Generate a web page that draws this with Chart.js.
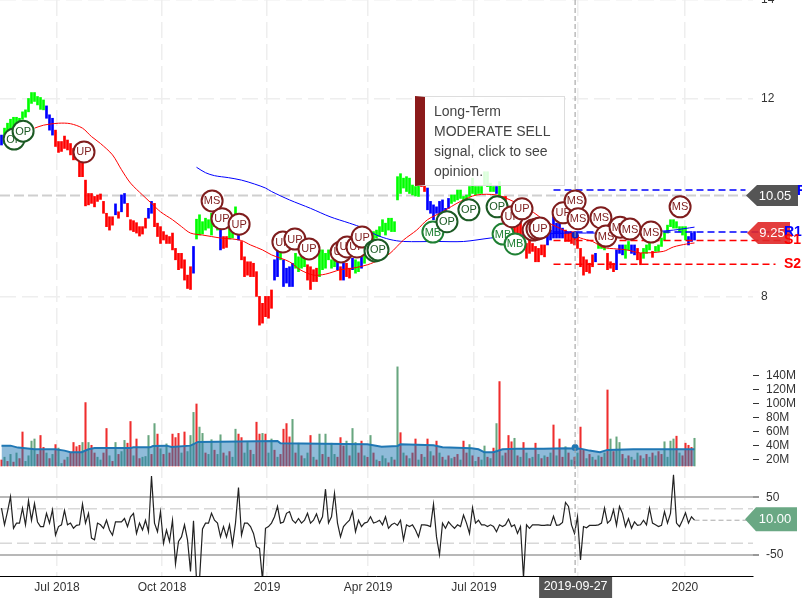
<!DOCTYPE html>
<html>
<head>
<meta charset="utf-8">
<title>Stock chart</title>
<script src="https://cdn.jsdelivr.net/npm/chart.js@4/dist/chart.umd.min.js"></script>
<style>
  html, body { margin: 0; padding: 0; background: #fff; }
  #wrap { position: relative; width: 802px; height: 600px; overflow: hidden; }
  canvas { display: block; }
  #opinion { position: absolute; left: 415px; top: 96px; width: 150px; height: 90px; box-sizing: border-box;
    background: rgba(255,255,255,0.86); border: 1px solid #ddd; border-left: 10px solid #8b1a1a;
    padding: 4px 0 0 9px; font: 14px/20px "Liberation Sans", Arial, sans-serif; color: #444; }
</style>
</head>
<body>
<div id="wrap">
  <canvas id="stock" width="802" height="600"></canvas>
  <div id="opinion">Long-Term<br>MODERATE SELL<br>signal, click to see<br>opinion.</div>
</div>
<script>
// bars are sampled sessions, x axis is the sample number
const tickSessions = [18.5, 53.5, 88.5, 122.2, 157.5, 192.2, 227.8];
const tickLabels = ['Jul 2018', 'Oct 2018', '2019', 'Apr 2019', 'Jul 2019', 'Oct 2019', '2020'];
const priceTicks = [14, 12, 8];
const volumeTicks = [20, 40, 60, 80, 100, 120, 140];
const cciTicks = [50, -50];

const priceHigh = [
  11.27,11.41,11.51,11.59,11.63,11.63,11.61,11.74,11.78,12.01,
  12.13,12.13,12.05,12.03,11.98,11.86,11.68,11.61,11.37,11.14,
  11.14,11.25,11.17,11.10,11.00,11.00,10.73,10.70,10.36,10.09,
  10.09,10.03,10.06,10.08,9.93,9.69,9.62,9.62,9.88,9.72,
  10.06,10.09,9.89,9.56,9.54,9.50,9.42,9.42,9.59,9.79,
  9.93,9.89,9.49,9.42,9.32,9.25,9.22,9.29,8.98,8.88,
  8.88,8.75,8.44,8.61,9.02,9.57,9.66,9.52,9.59,9.56,
  9.69,9.69,9.62,9.35,9.22,9.22,9.42,9.35,9.82,9.42,
  9.12,8.81,8.71,8.71,8.68,8.51,8.01,7.87,8.01,8.01,
  8.14,8.75,8.95,8.92,8.75,8.58,8.61,8.68,8.88,8.81,
  8.85,8.81,8.65,8.61,8.55,8.58,8.95,8.95,8.88,8.95,
  8.75,8.81,8.75,8.61,8.68,8.68,8.58,8.78,8.75,8.71,
  8.81,8.98,9.08,9.25,9.32,9.35,9.42,9.56,9.49,9.59,
  9.59,9.52,10.43,10.49,10.40,10.43,10.40,10.26,10.23,10.30,
  10.43,10.26,10.20,9.93,9.86,9.82,9.93,9.96,9.79,9.99,
  10.06,10.06,10.16,10.16,10.03,10.06,10.23,10.40,10.23,10.23,
  10.23,10.53,10.53,10.30,10.23,10.23,10.33,10.03,10.03,9.79,
  9.69,9.62,9.56,9.49,9.29,9.08,9.15,9.08,9.02,8.98,
  9.05,9.05,9.29,9.35,9.62,9.49,9.52,9.39,9.35,9.29,
  9.32,9.32,9.25,8.98,8.81,8.75,8.68,8.85,8.88,9.12,
  9.08,9.05,8.88,8.71,8.68,8.95,9.05,9.05,9.05,9.12,
  9.05,9.05,8.98,8.88,8.98,9.05,9.08,8.92,9.02,9.05,
  9.19,9.32,9.45,9.56,9.56,9.52,9.42,9.42,9.42,9.22,
  9.29,9.32
];
const priceLow = [
  11.07,11.10,11.21,11.27,11.37,11.47,11.51,11.59,11.63,11.74,
  11.91,11.95,11.88,11.79,11.78,11.61,11.37,11.27,11.04,10.92,
  10.94,11.00,10.97,10.87,10.77,10.77,10.43,10.43,9.84,9.86,
  9.89,9.82,9.93,9.97,9.69,9.42,9.35,9.45,9.66,9.59,
  9.72,9.89,9.62,9.35,9.32,9.29,9.23,9.27,9.39,9.59,
  9.69,9.42,9.22,9.08,9.15,9.08,9.08,8.95,8.75,8.55,
  8.58,8.34,8.17,8.15,8.48,9.17,9.25,9.27,9.35,9.39,
  9.25,9.42,9.35,8.95,8.98,9.00,9.17,9.19,9.49,9.15,
  8.75,8.41,8.44,8.41,8.41,8.01,7.43,7.47,7.60,7.57,
  7.77,8.34,8.41,8.75,8.21,8.28,8.21,8.21,8.58,8.51,
  8.58,8.61,8.34,8.15,8.31,8.31,8.41,8.55,8.58,8.75,
  8.58,8.61,8.55,8.34,8.34,8.41,8.38,8.55,8.48,8.51,
  8.58,8.68,8.81,9.02,9.08,9.19,9.22,9.32,9.25,9.35,
  9.32,9.32,9.96,10.09,10.20,10.13,10.09,10.06,10.04,10.03,
  10.23,10.13,9.76,9.69,9.56,9.69,9.56,9.72,9.66,9.79,
  9.89,9.93,9.96,9.99,9.86,9.96,10.03,10.09,10.06,10.09,
  10.09,10.26,10.23,10.13,10.13,10.09,10.03,9.69,9.62,9.49,
  9.42,9.29,9.22,9.15,8.95,8.78,8.88,8.92,8.71,8.71,
  8.85,8.81,9.05,9.15,9.19,9.19,9.19,9.19,9.12,9.12,
  9.08,9.05,8.98,8.61,8.44,8.51,8.48,8.61,8.71,8.98,
  8.98,8.95,8.55,8.58,8.51,8.55,8.88,8.85,8.78,8.95,
  8.88,8.85,8.75,8.65,8.78,8.88,8.95,8.80,8.92,8.92,
  9.02,9.15,9.29,9.42,9.39,9.39,9.32,9.25,9.15,9.05,
  9.12,9.15
];
// g = bullish, b = neutral, r = bearish
const priceSignal = [
  'bggggggggg','gggggbbbrr','rrrrrrrrrr','rrrrrrrrbr','bbrrrrrrrb',
  'brrrrrrrrr','rrrrbggggg','gggbrrgggb','rrrrrrrrrr','rbbgbbbbgg',
  'ggrrrrgggg','ggbrbrrbgg','bggggggggg','gggggggggg','rrbbbbbbbb',
  'gggggggggg','gggggbgrrr','rrrrrrrrrr','rrbbbbbbrr','rrrrrrrrbg',
  'ggrrrbbbgg','bbrrgggrgg','gggggggggb','bb'
].join('').split('');

const redMaSessions = [11,14,19,23,27,30,33,37,40,43,47,50,53,57,60,63,67,70,73,77,80,83,87,90,96,99.5,104,108,113,117,122,126,129.5,134,138.4,142,147,153,158.4,165,169.5,176,181.7,186,193,197,200.6,205,208.4,213,220.6,224,228.4,231];
const redMaValues = [11.41,11.47,11.51,11.50,11.41,11.24,11.10,10.87,10.57,10.30,10.06,9.89,9.72,9.56,9.42,9.29,9.25,9.22,9.19,9.17,9.14,9.05,8.95,8.85,8.71,8.55,8.44,8.46,8.55,8.58,8.65,8.75,8.88,9.15,9.35,9.56,9.72,9.93,10.06,10.06,9.96,9.76,9.52,9.39,9.19,9.12,9.00,8.97,8.95,8.89,8.92,9.01,9.07,9.09];
const blueMaSessions = [65,68,71,75.6,80,84.4,88,90,96,103,109.5,116,120.6,125,129.5,134,145,154,163,170,180,190,200,215,224,231];
const blueMaValues = [10.62,10.51,10.45,10.41,10.36,10.28,10.20,10.13,9.96,9.79,9.62,9.49,9.39,9.25,9.16,9.12,9.12,9.12,9.19,9.23,9.27,9.29,9.29,9.31,9.35,9.41];

const lastClose = 10.05;
const lastPrice = 9.25;
const lastCci = 10;
const levelNames = ['R2', 'R1', 'S1', 'S2'];
const levelValues = [10.16, 9.31, 9.14, 8.66];
const levelEnds = [248, 262, 260, 258];
const levelStart = 184;

const markerSessions = [4.2,7.2,27.5,70.2,73.5,79.2,93.8,97.8,102.5,113.2,115.2,118.5,120.2,124.5,125.5,143.8,148.5,155.8,165.2,167.2,171.2,170.2,173.5,177.2,178.5,179.5,187.2,191.2,192.2,199.8,201.5,206.2,209.5,216.5,226.2];
const markerPrices = [11.19,11.35,10.93,9.94,9.58,9.47,9.11,9.17,8.97,8.91,9.01,9.01,9.21,8.93,8.95,9.31,9.52,9.76,9.82,9.27,9.07,9.62,9.78,9.35,9.37,9.39,9.70,9.94,9.58,9.60,9.23,9.41,9.37,9.31,9.82];
const markerNames = ['OP','OP','UP','MS','UP','UP','UP','UP','UP','UP','UP','UP','UP','OP','OP','MB','OP','OP','OP','MB','MB','UP','UP','UP','UP','UP','UP','MS','MS','MS','MS','MS','MS','MS','MS'];

// volume in millions
const volumes = [
  20,24,18,28,17,30,22,60,18,26, 47,50,28,55,38,30,22,28,42,37,
  15,20,24,30,45,39,41,45,102,45, 41,30,24,20,30,65,26,18,45,28,
  32,48,44,75,26,50,22,24,25,55, 28,72,57,36,28,43,30,57,52,58,
  30,60,32,55,88,100,67,58,30,28, 49,34,28,56,30,26,32,24,64,57,
  52,30,45,34,28,74,57,58,57,30, 50,34,24,28,64,72,53,78,30,44,
  26,22,30,55,24,20,57,28,57,24, 44,28,24,52,40,47,26,65,45,30,
  47,26,24,55,30,20,18,26,22,16, 24,20,153,59,30,26,22,30,50,20,
  28,24,50,32,26,47,30,24,20,26, 22,24,28,20,47,30,42,26,18,24,
  20,40,24,22,37,72,132,26,30,55, 46,51,26,24,45,30,22,24,44,28,
  22,26,24,30,70,26,50,24,39,30, 20,24,30,67,34,22,28,24,20,26,
  24,30,120,50,32,53,45,28,22,26, 24,20,30,26,22,28,24,30,26,32,
  28,46,24,47,50,54,30,26,44,41, 38,51
];
const volumeSide = [
  'rgrgrgrrgg','ggrrrgrgrg','grgrrrrgrg','rrggrrgrgr','ggrrgrrggg',
  'rgrgrgrrrr','grgggrggrg','grggrgrggr','rggrgrrgrg','grgrrrrgrg',
  'rggrgrgrgr','ggrrrgrggr','rgrgrgrggr','grgrgrgrrg','rgrgrrgrgr',
  'grrgrrgrgr','ggrgrgrgrr','rgrgrgrgrg','rgrgrgrrgr','grgrrgrgrg',
  'rgrgrggrgr','grgrgrgrgr','rggggrgrrr','rg'
].join('').split('');
const volumeAvgSessions = [0,3,5.5,8,11,18,21,23,26.7,29,31,43,44,49.5,50.5,55,56.7,63,65.5,92,93,122,126.7,132,133,144,147,156.7,159,161,164,167,171.7,180.6,188,193,196,199.5,202,210.6,231];
const volumeAvgValues = [40.5,40.5,37.7,36.7,35.3,35.3,33.4,31,31,35.3,37.2,37.2,38.1,38.1,40,40.5,38.6,40.5,45.8,47.2,43.8,42.4,39,40,42.4,41,38.1,36.7,35.3,31,31,35.3,36.2,36.2,36.7,36.2,33.4,31,34.4,35.3,35.3];

const cciValues = [
  31,2,25,51,-4,5,5,31,2,44, 10,39,7,-1,-1,22,5,28,-16,-1,
  2,27,2,5,-4,1,2,38,5,22, -21,-24,5,2,-4,10,-7,-16,7,7,
  7,13,-1,16,22,-13,5,-7,10,-10, 87,5,-10,25,-30,-7,-27,10,-66,-27,
  -19,2,-24,-79,9,-94,-94,-5,5,5, 22,10,5,-19,-1,-19,2,-33,5,67,
  -16,5,5,-1,-13,-36,-39,-94,-4,-1, 5,16,34,5,7,22,25,10,5,13,
  5,10,22,5,10,21,5,16,64,5, 16,57,5,-19,-1,5,10,25,-10,10,
  -1,5,7,16,5,7,10,2,16,-4, 2,5,1,10,-24,2,-1,2,-7,-19,
  2,2,1,-1,38,-19,-50,5,-4,7, 1,-4,2,-1,19,5,-13,32,5,10,
  2,2,-1,2,-1,-10,2,-1,2,12, -1,2,-13,-1,-90,2,-4,2,2,2,
  1,1,2,1,17,1,2,6,41,34, 2,-13,16,-59,-1,-3,1,1,1,2,
  5,31,5,10,28,1,34,22,-1,13, -4,7,1,2,10,2,31,5,2,-1,
  1,25,5,22,89,5,-1,10,23,5, 16,10
];
const cciBands = [30, -30];

const crossSession = 191.2;
const crossPrice = 9.25;
const crossVolume = 38;
const crossDate = '2019-09-27';

const BAR_COLORS = { g: '#00ff00', b: '#0000ff', r: '#ff0000' };
const VOL_COLORS = { r: '#ef2d2d', g: '#68a67f' };
const MARK_COLORS = { OP: '#1c5a24', MB: '#1e8033', UP: '#7f1d1d', MS: '#7f1d1d' };
const VOL_FLOOR = 11.4;
const xy = (xs, ys) => xs.map((x, i) => ({ x, y: ys[i] }));
const sessions = priceHigh.map((_, i) => i);
const lastSession = sessions[sessions.length - 1];
const rightEdge = 250.5;

function tag(ctx, y, x0, x1, h, color, text, textX) {
  ctx.save();
  ctx.fillStyle = color;
  ctx.beginPath();
  ctx.moveTo(x0, y);
  ctx.lineTo(x0 + 11, y - h / 2);
  ctx.lineTo(x1, y - h / 2);
  ctx.lineTo(x1, y + h / 2);
  ctx.lineTo(x0 + 11, y + h / 2);
  ctx.closePath();
  ctx.fill();
  ctx.fillStyle = '#ffffff';
  ctx.font = '13px "Liberation Sans", Arial, sans-serif';
  ctx.textAlign = 'center';
  ctx.textBaseline = 'middle';
  ctx.fillText(text, textX, y + 0.5);
  ctx.restore();
}

const overlayPlugin = {
  id: 'overlay',
  afterLayout(chart) {
    // the three right axes share one column and the full panel height
    const main = chart.scales.yPrice;
    [chart.scales.yVol, chart.scales.yCci, main].forEach(s => {
      s.left = main.left; s.right = main.right; s.width = main.width;
      s.top = 0; s.bottom = 576; s.height = 576;
      s.configure();
    });
    chart.chartArea.top = 0;
    chart.chartArea.height = 576;
  },
  beforeDatasetDraw(chart, args) {
    if (chart.data.datasets[args.index].label !== 'signals') return;
    const ctx = chart.ctx;
    args.meta.data.forEach((pt, i) => {
      pt.draw(ctx, chart.chartArea);
      ctx.save();
      ctx.fillStyle = MARK_COLORS[markerNames[i]];
      ctx.font = '11px "Liberation Sans", Arial, sans-serif';
      ctx.textAlign = 'center';
      ctx.textBaseline = 'middle';
      ctx.fillText(markerNames[i], pt.x, pt.y + 0.5);
      ctx.restore();
    });
    return false;
  },
  afterDraw(chart) {
    const ctx = chart.ctx;
    const sp = chart.scales.yPrice, sc = chart.scales.yCci, sx = chart.scales.x;
    tag(ctx, sp.getPixelForValue(lastClose), 746, 798, 21, '#555555', lastClose.toFixed(2), 775);

    ctx.save();
    ctx.font = 'bold 14px "Liberation Sans", Arial, sans-serif';
    ctx.textBaseline = 'middle';
    ctx.fillStyle = '#0000ff';
    ctx.fillText(levelNames[0], 797, sp.getPixelForValue(levelValues[0]) + 1);
    ctx.restore();

    tag(ctx, sp.getPixelForValue(lastPrice) - 2, 747, 790, 22, 'rgba(224,40,40,0.9)', lastPrice.toFixed(2), 772);
    tag(ctx, sc.getPixelForValue(lastCci) - 1, 745, 797, 24, '#6aa884', lastCci.toFixed(2), 775);

    ctx.save();
    ctx.font = 'bold 14px "Liberation Sans", Arial, sans-serif';
    ctx.textBaseline = 'middle';
    ctx.fillStyle = '#0000ff';
    ctx.fillText(levelNames[1], 784, sp.getPixelForValue(levelValues[1]));
    ctx.fillStyle = '#ff0000';
    ctx.fillText(levelNames[2], 784, sp.getPixelForValue(levelValues[2]));
    ctx.fillText(levelNames[3], 784, sp.getPixelForValue(levelValues[3]));

    const cx = sx.getPixelForValue(crossSession);
    ctx.fillStyle = '#555555';
    ctx.fillRect(cx - 36, 577, 73, 21);
    ctx.fillStyle = '#ffffff';
    ctx.font = '12.5px "Liberation Sans", Arial, sans-serif';
    ctx.textAlign = 'center';
    ctx.fillText(crossDate, cx + 0.5, 587);
    ctx.restore();
  }
};

const levelSets = levelValues.map((v, i) => ({
  type: 'line', yAxisID: 'yPrice', clip: false, order: 3,
  data: [{ x: levelStart, y: v }, { x: levelEnds[i], y: v }],
  borderColor: i < 2 ? '#0000ff' : '#ff0000', borderWidth: 1.5, borderDash: [7, 4], pointRadius: 0
}));

new Chart(document.getElementById('stock'), {
  data: {
    datasets: [
      { type: 'bar', label: 'volume', yAxisID: 'yVol', order: 9,
        data: sessions.map(i => ({ x: i, y: [VOL_FLOOR, volumes[i]] })),
        backgroundColor: volumeSide.map(s => VOL_COLORS[s]), barThickness: 1.4, grouped: false },
      { type: 'line', label: 'volume average', yAxisID: 'yVol', order: 8,
        data: xy(volumeAvgSessions, volumeAvgValues),
        borderColor: '#1f77b4', borderWidth: 2, pointRadius: 0, tension: 0,
        fill: { value: VOL_FLOOR }, backgroundColor: 'rgba(31,119,180,0.5)' },
      { type: 'line', label: 'cci band high', yAxisID: 'yCci', order: 8,
        data: [{ x: -0.5, y: cciBands[0] }, { x: rightEdge, y: cciBands[0] }],
        borderColor: '#d8d8d8', borderWidth: 1.5, borderDash: [12, 5], pointRadius: 0 },
      { type: 'line', label: 'cci band low', yAxisID: 'yCci', order: 8,
        data: [{ x: -0.5, y: cciBands[1] }, { x: rightEdge, y: cciBands[1] }],
        borderColor: '#d8d8d8', borderWidth: 1.5, borderDash: [12, 5], pointRadius: 0 },
      { type: 'line', label: 'cci', yAxisID: 'yCci', order: 6,
        data: xy(sessions, cciValues), borderColor: '#222222', borderWidth: 1.2, pointRadius: 0, tension: 0 },
      { type: 'line', label: 'cci last', yAxisID: 'yCci', order: 7,
        data: [{ x: lastSession, y: lastCci }, { x: rightEdge, y: lastCci }],
        borderColor: '#aaaaaa', borderWidth: 1, borderDash: [5, 3], pointRadius: 0 },
      { type: 'line', label: 'last close', yAxisID: 'yPrice', order: 8,
        data: [{ x: -0.5, y: lastClose }, { x: rightEdge, y: lastClose }],
        borderColor: '#cfcfcf', borderWidth: 2, borderDash: [10, 4], pointRadius: 0 },
      { type: 'bar', label: 'price', yAxisID: 'yPrice', order: 5,
        data: sessions.map(i => ({ x: i, y: [priceLow[i], priceHigh[i]] })),
        backgroundColor: priceSignal.map(s => BAR_COLORS[s]), barThickness: 2, grouped: false },
      { type: 'line', label: 'ma red', yAxisID: 'yPrice', order: 4,
        data: xy(redMaSessions, redMaValues), borderColor: '#ff0000', borderWidth: 1, pointRadius: 0, tension: 0.3 },
      { type: 'line', label: 'ma blue', yAxisID: 'yPrice', order: 4,
        data: xy(blueMaSessions, blueMaValues), borderColor: '#0000ff', borderWidth: 1, pointRadius: 0, tension: 0.3 },
      ...levelSets,
      { type: 'line', label: 'crosshair', yAxisID: 'yPrice', order: 2,
        data: [{ x: crossSession, y: 14 }, { x: crossSession, y: 2.36 }],
        borderColor: '#999999', borderWidth: 1, borderDash: [5, 3], pointRadius: 0 },
      { type: 'scatter', label: 'cross price', yAxisID: 'yPrice', order: 2,
        data: [{ x: crossSession, y: crossPrice }],
        pointRadius: 3.5, backgroundColor: '#1020c0', borderWidth: 0 },
      { type: 'scatter', label: 'cross volume', yAxisID: 'yVol', order: 2,
        data: [{ x: crossSession, y: crossVolume }],
        pointRadius: 3.5, backgroundColor: '#1f77b4', borderWidth: 0 },
      { type: 'scatter', label: 'signals', yAxisID: 'yPrice', order: 1,
        data: xy(markerSessions, markerPrices),
        pointRadius: 10.5, pointBorderWidth: 2, pointBackgroundColor: '#ffffff',
        pointBorderColor: markerNames.map(n => MARK_COLORS[n]) }
    ]
  },
  options: {
    responsive: false,
    animation: false,
    events: [],
    layout: { padding: 0, autoPadding: false },
    plugins: { legend: { display: false }, tooltip: { enabled: false } },
    scales: {
      x: {
        type: 'linear', position: 'bottom', min: -0.5, max: rightEdge, offset: false,
        afterBuildTicks: s => { s.ticks = tickSessions.map(value => ({ value })); },
        afterFit: s => { s.height = 24; },
        ticks: { autoSkip: false, maxRotation: 0, padding: 4, color: '#333',
          font: { family: '"Liberation Sans", Arial, sans-serif', size: 12 },
          callback: v => tickLabels[tickSessions.indexOf(v)] },
        grid: { color: '#eeeeee', lineWidth: 1.5, drawTicks: false, offset: false },
        border: { color: '#000000', width: 1, dash: [16, 6] }
      },
      yVol: {
        position: 'right', weight: 1, min: -145.7, max: 677,
        afterBuildTicks: s => { s.ticks = volumeTicks.map(value => ({ value })); },
        afterFit: s => { s.width = 0; },
        ticks: { padding: 7, color: '#333', font: { family: '"Liberation Sans", Arial, sans-serif', size: 12 }, callback: v => v + 'M' },
        grid: { drawOnChartArea: false, tickLength: 6, tickColor: '#333' },
        border: { display: false }
      },
      yCci: {
        position: 'right', weight: 2, min: -87, max: 914.8,
        afterBuildTicks: s => { s.ticks = cciTicks.map(value => ({ value })); },
        afterFit: s => { s.width = 0; },
        ticks: { padding: 7, color: '#333', font: { family: '"Liberation Sans", Arial, sans-serif', size: 12 } },
        grid: { color: '#b8b8b8', lineWidth: 2, tickLength: 6, tickColor: '#333', tickWidth: 1 },
        border: { display: false }
      },
      yPrice: {
        position: 'right', weight: 3, min: 2.36, max: 14,
        afterBuildTicks: s => { s.ticks = priceTicks.map(value => ({ value })); },
        afterFit: s => { s.width = 49; },
        ticks: { padding: 8, color: '#333', font: { family: '"Liberation Sans", Arial, sans-serif', size: 12 } },
        grid: { color: '#eeeeee', lineWidth: 1.5, drawTicks: false },
        border: { display: false, dash: [16, 6] }
      }
    }
  },
  plugins: [overlayPlugin]
});
</script>
</body>
</html>
